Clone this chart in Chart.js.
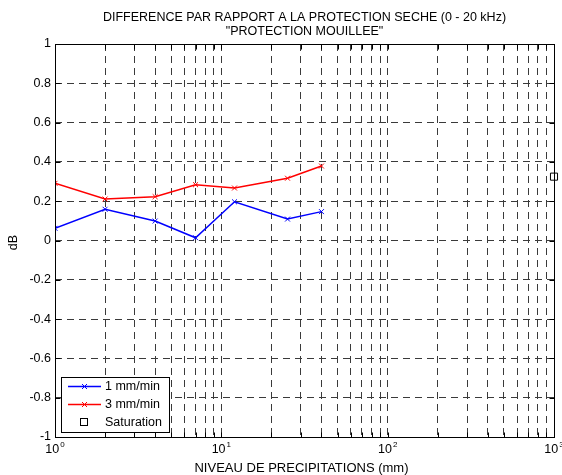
<!DOCTYPE html>
<html><head><meta charset="utf-8">
<script src="https://cdn.jsdelivr.net/npm/chart.js@4/dist/chart.umd.min.js"></script>
<style>html,body{margin:0;padding:0;background:#fff;}#wrap{width:562px;height:475px;position:relative;}</style>
</head><body><div id="wrap"><canvas id="c" width="562" height="475"></canvas></div>
<script>
const titleLines = ['DIFFERENCE PAR RAPPORT A LA PROTECTION SECHE (0 - 20 kHz)', '"PROTECTION MOUILLEE"'];
const xTitle = 'NIVEAU DE PRECIPITATIONS (mm)';
const yTitle = 'dB';
const precip = [1, 2, 4, 7, 12, 25, 40];
const series1 = [0.062, 0.159, 0.099, 0.014, 0.197, 0.109, 0.147];
const series3 = [0.291, 0.211, 0.223, 0.284, 0.267, 0.317, 0.379];
const saturationX = [1000];
const saturationY = [0.325];
const seriesNames = ['1 mm/min', '3 mm/min', 'Saturation'];
const xTickValues = [1,2,3,4,5,6,7,8,9,10,20,30,40,50,60,70,80,90,100,200,300,400,500,600,700,800,900,1000];
const xDecades = [1, 10, 100, 1000];
const xDecadeExp = ['0', '1', '2', '3'];
const yTickValues = [-1, -0.8, -0.6, -0.4, -0.2, 0, 0.2, 0.4, 0.6, 0.8, 1];
const yTickLabels = ['-1', '-0.8', '-0.6', '-0.4', '-0.2', '0', '0.2', '0.4', '0.6', '0.8', '1'];

const FONT = '"Liberation Sans", Arial, sans-serif';
const FS = 12.5;
const GRID = {color: '#3a3a3a', lineWidth: 1, drawTicks: false};
const DASH = [7, 5];

const decor = {
  id: 'decor',
  afterDraw(chart) {
    const ctx = chart.ctx;
    const a = chart.chartArea;
    const xs = chart.scales.x, ys = chart.scales.y;
    const L = Math.round(a.left) + 0.5, R = Math.round(a.right) + 0.5;
    const T = Math.round(a.top) + 0.5, B = Math.round(a.bottom) + 0.5;
    ctx.save();
    ctx.strokeStyle = '#000';
    ctx.lineWidth = 1;
    ctx.setLineDash([]);
    // inward ticks
    ctx.beginPath();
    xTickValues.forEach(v => {
      const px = Math.round(xs.getPixelForValue(v)) + 0.5;
      ctx.moveTo(px, B); ctx.lineTo(px, B - 5);
      ctx.moveTo(px, T); ctx.lineTo(px, T + 5);
    });
    yTickValues.forEach(v => {
      const py = Math.round(ys.getPixelForValue(v)) + 0.5;
      ctx.moveTo(L, py); ctx.lineTo(L + 5, py);
      ctx.moveTo(R, py); ctx.lineTo(R - 5, py);
    });
    ctx.stroke();
    // box
    ctx.strokeRect(L, T, R - L, B - T);

    ctx.fillStyle = '#000';
    // x tick labels 10^n
    xDecades.forEach((v, i) => {
      const px = xs.getPixelForValue(v);
      ctx.font = FS + 'px ' + FONT;
      const w1 = ctx.measureText('10').width;
      ctx.font = '8px ' + FONT;
      const w2 = ctx.measureText(xDecadeExp[i]).width;
      const start = px - (w1 + w2 + 1) / 2;
      ctx.textAlign = 'left';
      ctx.textBaseline = 'alphabetic';
      ctx.font = FS + 'px ' + FONT;
      ctx.fillText('10', start, 453);
      ctx.font = '8px ' + FONT;
      ctx.fillText(xDecadeExp[i], start + w1 + 1, 447);
    });
    // titles
    ctx.font = FS + 'px ' + FONT;
    ctx.textAlign = 'center';
    ctx.textBaseline = 'alphabetic';
    const cx = (a.left + a.right) / 2;
    ctx.fillText(titleLines[0], cx, 20.5);
    ctx.fillText(titleLines[1], cx, 35);
    ctx.font = '13px ' + FONT;
    ctx.fillText(xTitle, cx - 3, 472);
    ctx.save();
    ctx.translate(17, (a.top + a.bottom) / 2 + 2);
    ctx.rotate(-Math.PI / 2);
    ctx.textBaseline = 'alphabetic';
    ctx.font = FS + 'px ' + FONT;
    ctx.fillText(yTitle, 0, 0);
    ctx.restore();

    // legend
    const lx = 61.5, ly = 377.5, lw = 108, lh = 55;
    ctx.fillStyle = '#fff';
    ctx.fillRect(lx, ly, lw, lh);
    ctx.strokeStyle = '#000';
    ctx.strokeRect(lx, ly, lw, lh);
    const rows = [386, 404, 422];
    const ds = chart.data.datasets;
    ctx.font = FS + 'px ' + FONT;
    ctx.textAlign = 'left';
    ctx.textBaseline = 'middle';
    for (let i = 0; i < 2; i++) {
      const y = rows[i] + 0.5;
      ctx.strokeStyle = ds[i].borderColor;
      ctx.lineWidth = 1.5;
      ctx.beginPath(); ctx.moveTo(68, y); ctx.lineTo(101, y); ctx.stroke();
      ctx.lineWidth = 1;
      ctx.beginPath();
      ctx.moveTo(84.5 - 2.5, y - 2.5); ctx.lineTo(84.5 + 2.5, y + 2.5);
      ctx.moveTo(84.5 - 2.5, y + 2.5); ctx.lineTo(84.5 + 2.5, y - 2.5);
      ctx.stroke();
      ctx.fillStyle = '#000';
      ctx.fillText(ds[i].label, 105, rows[i] + 1);
    }
    ctx.strokeStyle = '#000';
    ctx.lineWidth = 1;
    ctx.strokeRect(80.5, rows[2] - 3.5, 7, 7);
    ctx.fillStyle = '#000';
    ctx.fillText(ds[2].label, 105, rows[2] + 1);
    ctx.restore();
  }
};

new Chart(document.getElementById('c'), {
  type: 'line',
  data: {
    datasets: [
      {
        label: seriesNames[0],
        data: precip.map((x, i) => ({x: x, y: series1[i]})),
        borderColor: '#0000ff', borderWidth: 1.5,
        pointStyle: 'crossRot', pointRadius: 3.5, pointBorderWidth: 1,
        pointBorderColor: '#0000ff', fill: false, tension: 0
      },
      {
        label: seriesNames[1],
        data: precip.map((x, i) => ({x: x, y: series3[i]})),
        borderColor: '#ff0000', borderWidth: 1.5,
        pointStyle: 'crossRot', pointRadius: 3.5, pointBorderWidth: 1,
        pointBorderColor: '#ff0000', fill: false, tension: 0
      },
      {
        label: seriesNames[2],
        data: saturationX.map((x, i) => ({x: x, y: saturationY[i]})),
        showLine: false, borderColor: '#000',
        pointStyle: 'rect', pointRadius: 5, pointBorderWidth: 1,
        pointBorderColor: '#000', pointBackgroundColor: 'rgba(0,0,0,0)',
        clip: false
      }
    ]
  },
  options: {
    responsive: false, animation: false, devicePixelRatio: 1,
    layout: {padding: {top: 44, right: 8, left: 0, bottom: 0}},
    plugins: {legend: {display: false}, title: {display: false}, tooltip: {enabled: false}},
    scales: {
      x: {
        type: 'logarithmic', min: 1, max: 1000,
        afterBuildTicks: s => { s.ticks = xTickValues.map(v => ({value: v})); },
        afterFit: s => { s.height = 38; },
        ticks: {display: false},
        grid: GRID,
        border: {display: false, dash: DASH}
      },
      y: {
        type: 'linear', min: -1, max: 1,
        afterBuildTicks: s => { s.ticks = yTickValues.map(v => ({value: v})); },
        afterFit: s => { s.width = 55; },
        ticks: {
          autoSkip: false, padding: 4, color: '#000',
          font: {family: FONT, size: FS},
          callback: (v, i) => yTickLabels[i]
        },
        grid: GRID,
        border: {display: false, dash: DASH}
      }
    }
  },
  plugins: [decor]
});
</script>
</body></html>
